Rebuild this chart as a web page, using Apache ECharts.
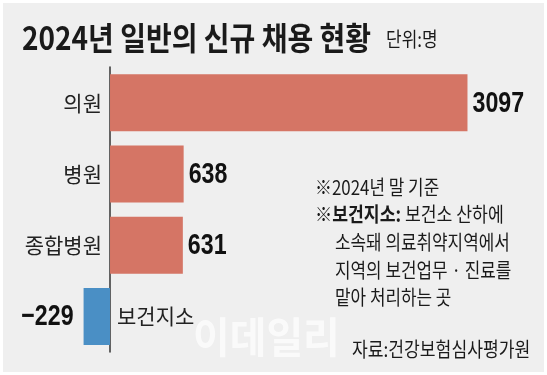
<!DOCTYPE html>
<html>
<head>
<meta charset="utf-8">
<script src="https://cdn.jsdelivr.net/npm/echarts@6/dist/echarts.min.js"></script>
<style>
html,body{margin:0;padding:0;background:#fff;}
#c{width:547px;height:375px;}
</style>
</head>
<body>
<div id="c"></div>
<script>
const categories = ['의원', '병원', '종합병원', '보건지소'];
const values = [3097, 638, 631, -229];
const titleText = '2024년 일반의 신규 채용 현황';
const unitText = '단위:명';
const noteLines = ['※2024년 말 기준', '※{b|보건지소:} 보건소 산하에', '소속돼 의료취약지역에서', '지역의 보건업무 · 진료를', '맡아 처리하는 곳'];
const sourceText = '자료:건강보험심사평가원';
const watermarkText = '이데일리';

const POS = '#d57565', NEG = '#4a8fc5';
const KR = '"Noto Sans CJK KR", sans-serif';
const NUM = '"Liberation Sans", Arial, sans-serif';

const chart = echarts.init(document.getElementById('c'), null, {renderer: 'canvas'});

function txt(text, x, y, size, scaleX, opts) {
  opts = opts || {};
  return {
    type: 'text', x: x, y: y, scaleX: scaleX, z: opts.z || 1,
    style: Object.assign({
      text: text, fill: '#1a1a1a',
      font: (opts.weight || 'normal') + ' ' + size + 'px ' + (opts.family || KR),
      textAlign: opts.align || 'left', textVerticalAlign: 'middle'
    }, opts.style || {})
  };
}

const valueData = values.map(function (v) {
  return {value: v, itemStyle: {color: v >= 0 ? POS : NEG}};
});
const nameData = values.map(function (v, i) {
  return {
    value: v,
    label: {position: v >= 0 ? 'left' : 'right', distance: v >= 0 ? 8 : 7, formatter: categories[i]}
  };
});

chart.setOption({
  animation: false,
  backgroundColor: '#ffffff',
  grid: {left: 52.3, width: 461.7, top: 67, height: 285, containLabel: false},
  xAxis: {type: 'value', min: -500, max: 3500, show: false},
  yAxis: {
    type: 'category', data: categories, inverse: true,
    axisLine: {show: true, onZero: true, lineStyle: {color: '#333', width: 1.5}},
    axisTick: {show: false}, axisLabel: {show: false}, splitLine: {show: false}
  },
  series: [
    {type: 'bar', data: valueData, barCategoryGap: '20%', z: 2},
    {
      type: 'bar', data: nameData, barGap: '-100%', barCategoryGap: '20%', z: 3, silent: true,
      itemStyle: {color: 'rgba(0,0,0,0)'},
      label: {show: true, fontFamily: KR, fontSize: 21, color: '#222'}
    }
  ]
});

const noteY = [187, 214, 242, 270, 297];
const noteX = [315, 315, 335, 335, 335];
const graphics = [
  {type: 'rect', shape: {x: 3, y: 3, width: 541, height: 369}, style: {fill: '#efefef'}, z: -10},
  txt(titleText, 22, 38, 32, 0.875, {weight: 'bold'}),
  txt(unitText, 386, 39, 20, 0.85),
  txt(watermarkText, 193, 337, 42, 0.95, {weight: 'bold', z: 0, style: {fill: 'rgba(255,255,255,0.7)'}}),
  txt(sourceText, 352, 349, 20, 0.857)
];
noteLines.forEach(function (l, i) {
  graphics.push(txt(l, noteX[i], noteY[i], 20, i === 1 ? 0.86 : 0.845, {
    style: {rich: {b: {font: 'bold 20px ' + KR, fill: '#1a1a1a'}}}
  }));
});
// value labels placed through the chart's own scales
values.forEach(function (v, i) {
  const p = chart.convertToPixel({gridIndex: 0}, [v, i]);
  const s = v < 0 ? '\u2212' + Math.abs(v) : String(v);
  graphics.push(txt(s, v >= 0 ? p[0] + 5 : p[0] - 10, p[1] + 1, 29, 0.8, {
    family: NUM, weight: 'bold', align: v >= 0 ? 'left' : 'right', z: 5, style: {fill: '#111'}
  }));
});
chart.setOption({graphic: {elements: graphics}});
</script>
</body>
</html>
